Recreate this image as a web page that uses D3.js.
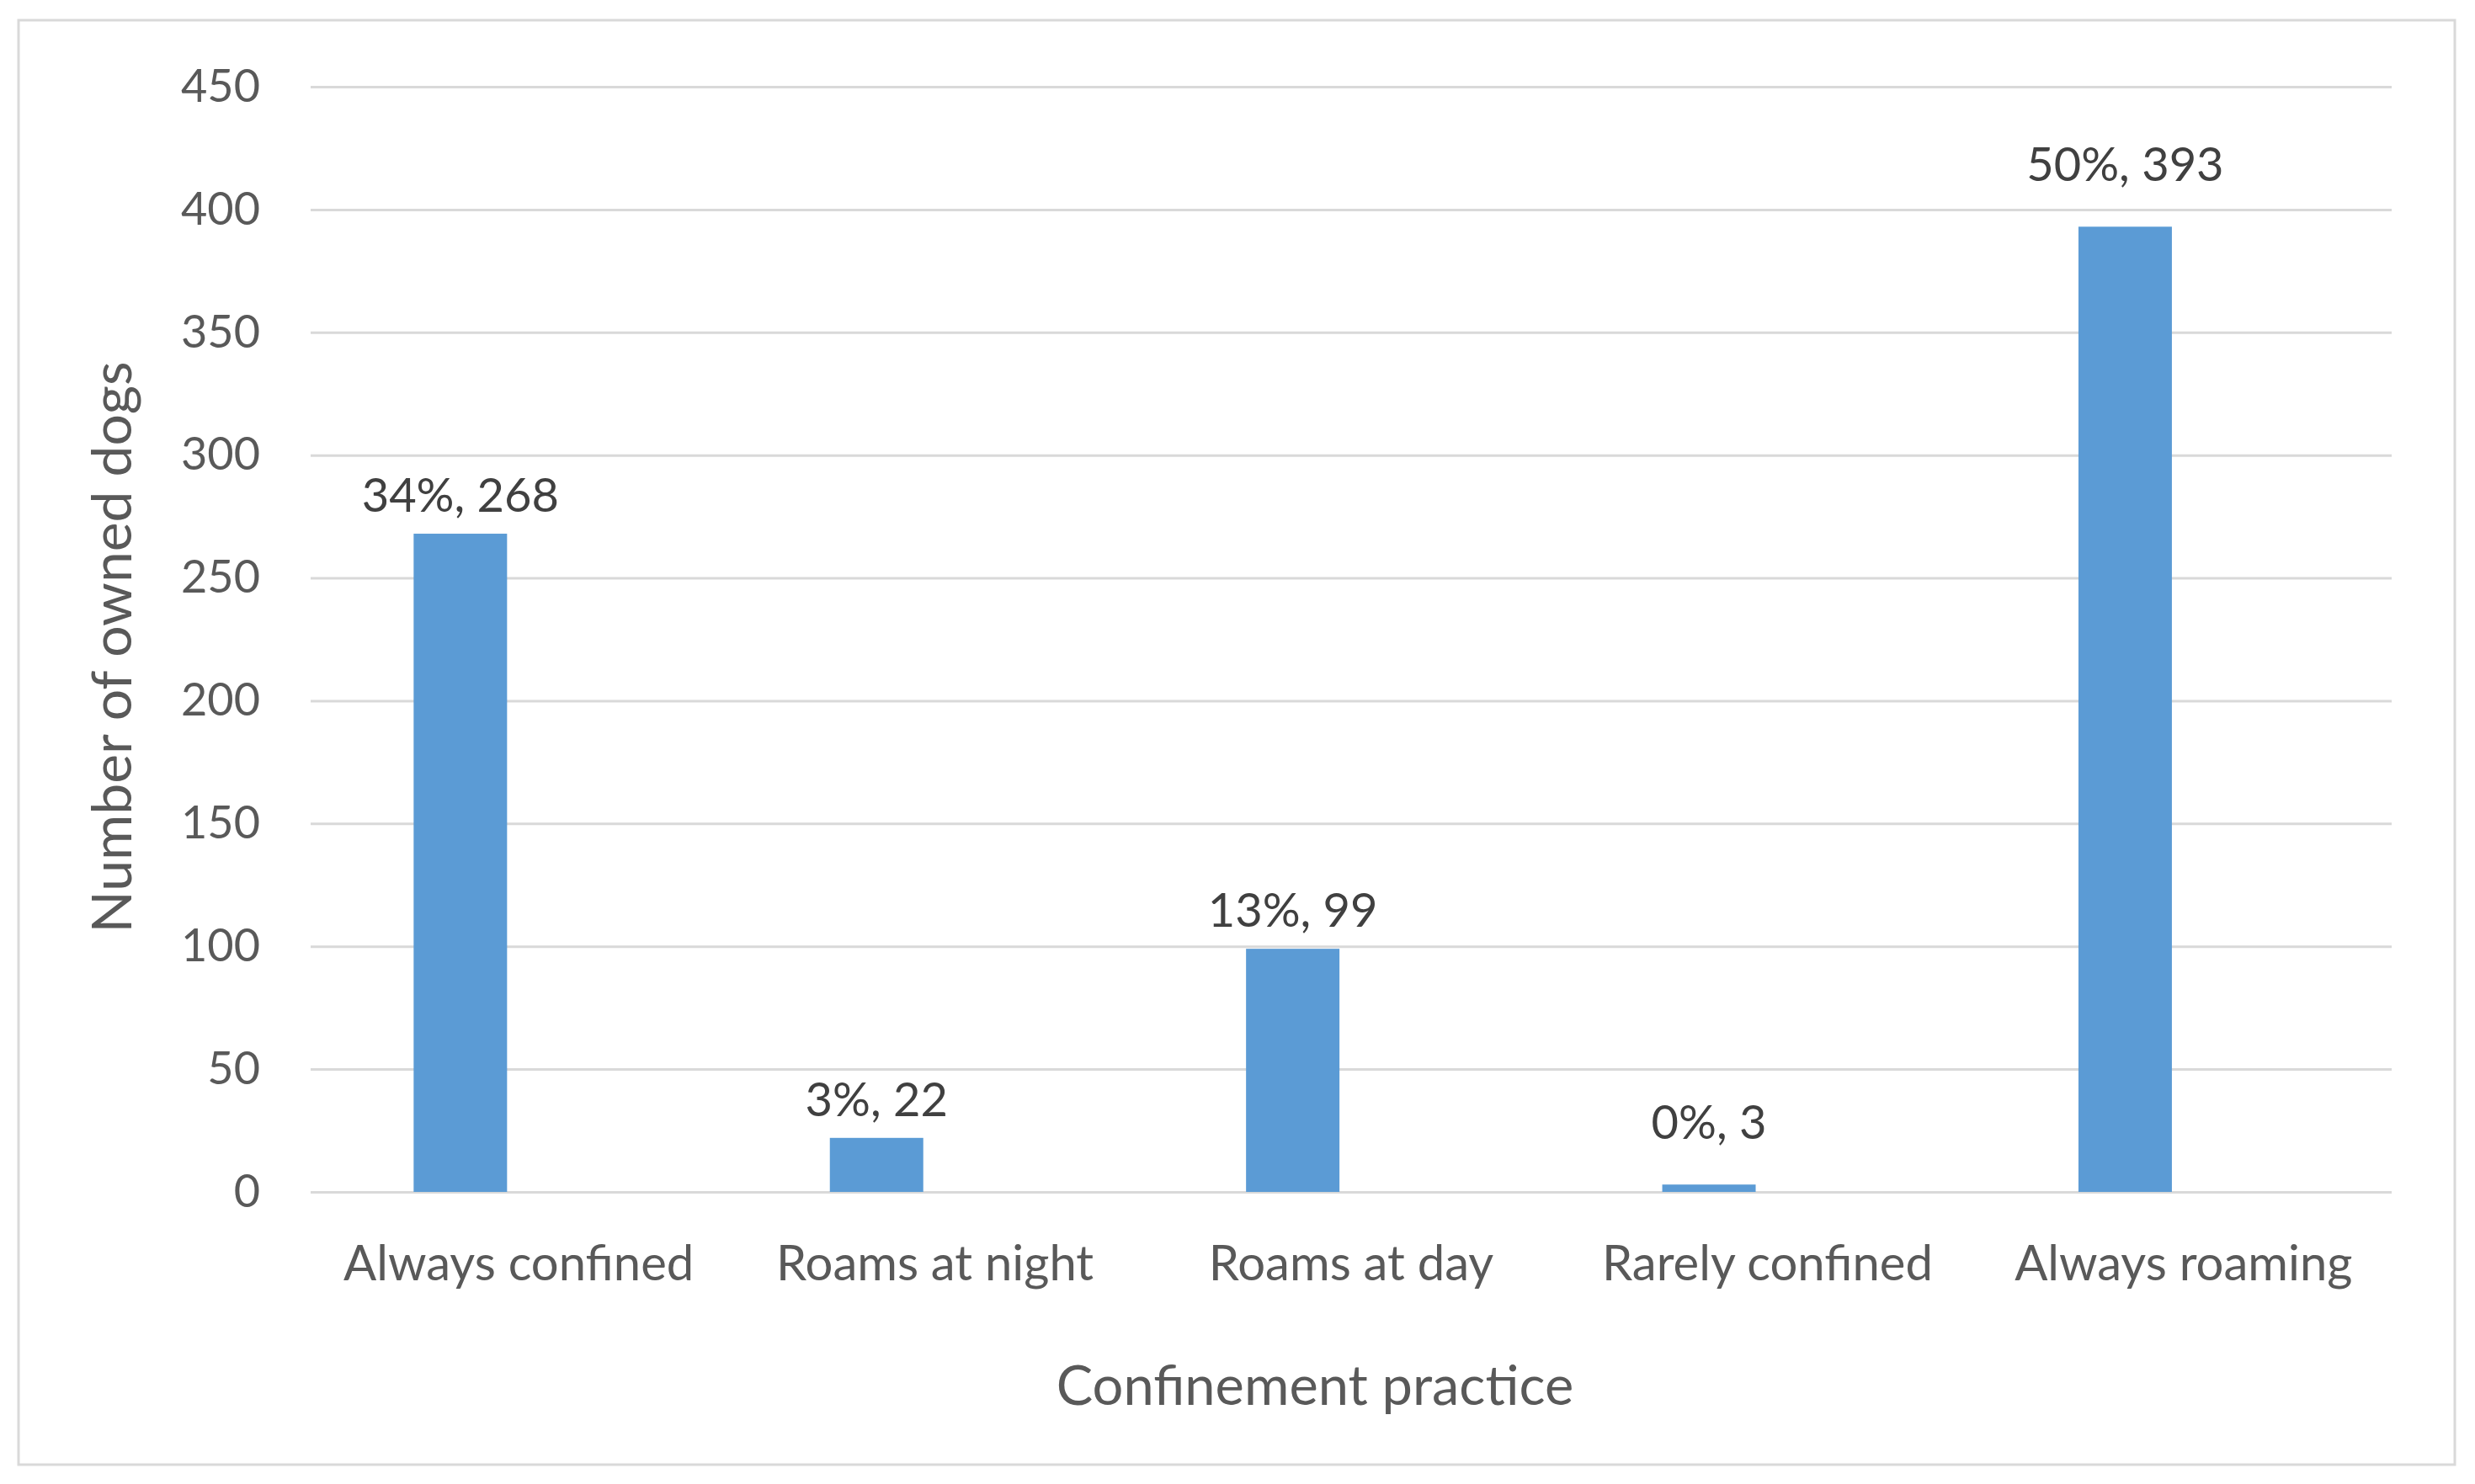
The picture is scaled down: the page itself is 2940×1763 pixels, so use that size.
<!DOCTYPE html>
<html>
<head>
<meta charset="utf-8">
<script src="https://cdn.jsdelivr.net/npm/d3@7"></script>
<style>
  body { margin: 0; background: #fff; }
  svg { display: block; font-family: Lato, "Open Sans", sans-serif; }
</style>
</head>
<body>
<div id="chart"></div>
<script>
// data
const categories = ["Always confined", "Roams at night", "Roams at day", "Rarely confined", "Always roaming"];
const dogCounts = [268, 22, 99, 3, 393];
const yTicks = [0, 50, 100, 150, 200, 250, 300, 350, 400, 450];
// a couple of labels sit higher in the original (dragged by hand)
const labelLift = [0, 0, 0, 28, 28];

document.addEventListener("DOMContentLoaded", function() {
    const width = 2940, height = 1763;
    const svg = d3.select("#chart").append("svg").attr("width", width).attr("height", height);

    const left = 369, right = 2841, top = 103, bottom = 1416;

    // outer frame
    svg.append("rect")
        .attr("x", 22).attr("y", 24)
        .attr("width", 2894).attr("height", 1716)
        .attr("fill", "#fff")
        .attr("stroke", "#d9d9d9")
        .attr("stroke-width", 3);

    const x = d3.scaleBand().domain(categories).range([left, right]);
    // bars sit left of centre, like the first slot of an excel cluster
    const slot = d3.scaleBand().domain(["dogs", "empty"]).range([0, x.bandwidth()])
        .paddingInner(0.2).paddingOuter(0.882);
    const y = d3.scaleLinear().domain([0, 450]).range([bottom, top]);

    // gridlines
    const grid = svg.append("g")
        .attr("transform", `translate(${left},0)`)
        .call(d3.axisLeft(y).tickValues(yTicks).tickSize(-(right - left)).tickFormat(""));
    grid.select(".domain").remove();
    grid.selectAll("line").attr("stroke", "#d9d9d9").attr("stroke-width", 3);

    // y tick labels
    const yAxis = svg.append("g")
        .attr("transform", `translate(${left},0)`)
        .call(d3.axisLeft(y).tickValues(yTicks).tickSize(0).tickPadding(60));
    yAxis.select(".domain").remove();
    yAxis.selectAll("text")
        .attr("font-size", 54)
        .attr("font-family", "Lato, sans-serif")
        .attr("fill", "#595959");

    // bars
    svg.selectAll(".bar")
        .data(dogCounts)
        .join("rect")
        .attr("class", "bar")
        .attr("x", (d, i) => x(categories[i]) + slot("dogs"))
        .attr("y", d => y(d))
        .attr("width", slot.bandwidth())
        .attr("height", d => y(0) - y(d))
        .attr("fill", "#5b9bd5");

    // data labels: share and count
    const total = d3.sum(dogCounts);
    const pct = d3.format(".0%");
    svg.selectAll(".dlabel")
        .data(dogCounts)
        .join("text")
        .attr("class", "dlabel")
        .attr("x", (d, i) => x(categories[i]) + slot("dogs") + slot.bandwidth() / 2)
        .attr("y", (d, i) => y(d) - 26 - labelLift[i])
        .attr("text-anchor", "middle")
        .attr("font-size", 56)
        .attr("fill", "#404040")
        .text(d => `${pct(d / total)}, ${d}`);

    // x axis labels
    const xAxis = svg.append("g")
        .attr("transform", `translate(0,${bottom})`)
        .call(d3.axisBottom(x).tickSize(0));
    xAxis.select(".domain").remove();
    xAxis.selectAll("text")
        .attr("dy", null)
        .attr("y", 105)
        .attr("font-size", 58)
        .attr("font-family", "Lato, sans-serif")
        .attr("fill", "#595959");

    // axis titles
    svg.append("text")
        .attr("x", 1562)
        .attr("y", 1669)
        .attr("text-anchor", "middle")
        .attr("font-size", 65)
        .attr("fill", "#595959")
        .text("Confinement practice");

    svg.append("text")
        .attr("transform", "translate(156,769) rotate(-90)")
        .attr("text-anchor", "middle")
        .attr("font-size", 66)
        .attr("fill", "#595959")
        .text("Number of owned dogs");
});
</script>
</body>
</html>
